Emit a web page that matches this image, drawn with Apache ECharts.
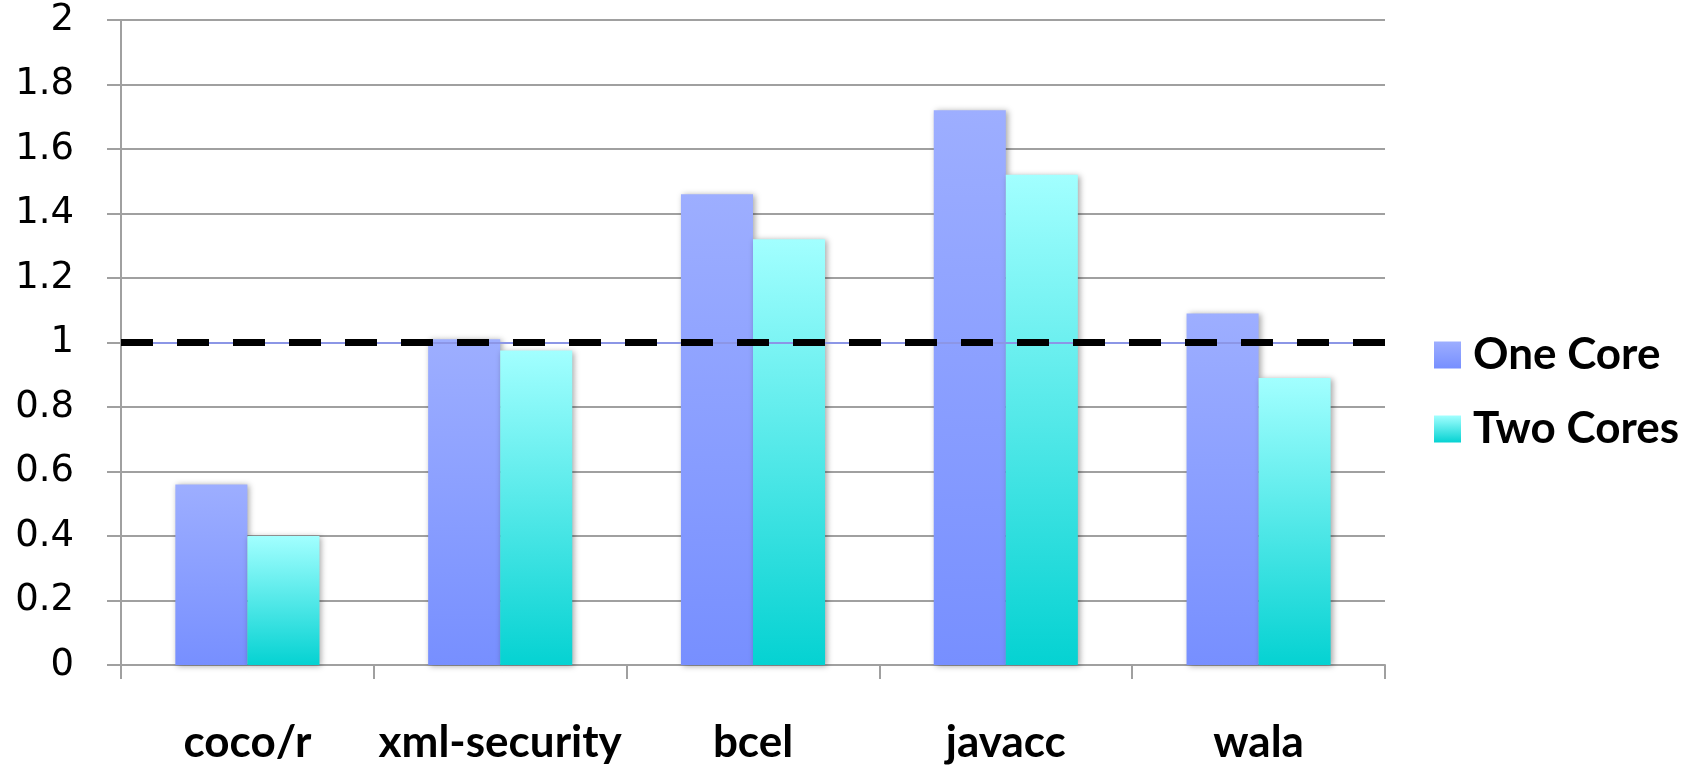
<!doctype html>
<html>
<head>
<meta charset="UTF-8">
<title>One Core vs Two Cores</title>
<script src="https://cdn.jsdelivr.net/npm/echarts@6/dist/echarts.min.js"></script>
<style>
  html, body { margin: 0; padding: 0; background: #fff; }
  #chart { width: 1688px; height: 766px; }
</style>
</head>
<body>
<div id="chart"></div>
<script>
// data
var benchmarks = ['coco/r', 'xml-security', 'bcel', 'javacc', 'wala'];
var oneCore = [0.56, 1.01, 1.46, 1.72, 1.09];
var twoCores = [0.40, 0.975, 1.32, 1.52, 0.89];
var baseline = 1;

var myChart = echarts.init(document.getElementById('chart'));

function grad(top, bottom) {
  return new echarts.graphic.LinearGradient(0, 0, 0, 1, [
    { offset: 0, color: top },
    { offset: 1, color: bottom }
  ]);
}

var barShadow = {
  shadowColor: 'rgba(0,0,0,0.35)',
  shadowBlur: 6,
  shadowOffsetX: 2,
  shadowOffsetY: 1
};

var option = {
  backgroundColor: '#fff',
  animation: false,
  grid: { left: 121, right: 303, top: 20, bottom: 101 },
  legend: {
    orient: 'vertical',
    left: 1434,
    top: 333,
    padding: 0,
    itemWidth: 27,
    itemHeight: 27,
    itemGap: 30,
    icon: 'rect',
    textStyle: {
      fontFamily: 'Lato',
      fontWeight: 'bold',
      fontSize: 44,
      color: '#000',
      padding: [0, 0, 0, 7]
    },
    data: ['One Core', 'Two Cores']
  },
  xAxis: {
    type: 'category',
    data: benchmarks,
    axisLine: { lineStyle: { color: '#a0a0a0', width: 2 } },
    axisTick: { show: true, interval: 0, length: 14, lineStyle: { color: '#a0a0a0', width: 2 } },
    axisLabel: {
      interval: 0,
      margin: 56,
      fontFamily: 'Lato',
      fontWeight: 'bold',
      fontSize: 44,
      color: '#000'
    }
  },
  yAxis: {
    type: 'value',
    min: 0,
    max: 2,
    interval: 0.2,
    axisLine: { show: true, lineStyle: { color: '#a0a0a0', width: 2 } },
    axisTick: { show: true, length: 14, lineStyle: { color: '#a0a0a0', width: 2 } },
    splitLine: { lineStyle: { color: '#a0a0a0', width: 2 } },
    axisLabel: {
      margin: 47,
      fontFamily: 'DejaVu Sans',
      fontSize: 37,
      color: '#000'
    }
  },
  series: [{
    name: 'One Core',
    type: 'bar',
    data: oneCore,
    barGap: '0%',
    barCategoryGap: '43%',
    itemStyle: Object.assign({ color: grad('#9daeff', '#778fff') }, barShadow),
    markLine: {
      silent: true,
      symbol: 'none',
      label: { show: false },
      z: 10,
      data: [
        { yAxis: baseline, lineStyle: { color: '#000', width: 7, type: [32, 24] } }
      ]
    }
  }, {
    name: 'Two Cores',
    type: 'bar',
    data: twoCores,
    itemStyle: Object.assign({ color: grad('#a2ffff', '#05d2d2') }, barShadow),
    markLine: {
      silent: true,
      symbol: 'none',
      label: { show: false },
      z: 9,
      data: [
        { yAxis: baseline, lineStyle: { color: '#8c96e6', width: 2, type: 'solid' } }
      ]
    }
  }]
};

myChart.setOption(option);
</script>
</body>
</html>
